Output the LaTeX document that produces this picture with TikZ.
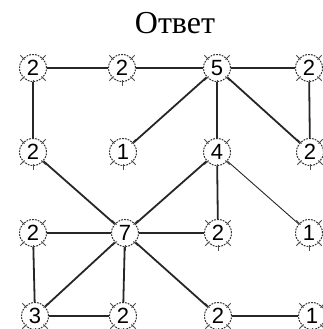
\documentclass[tikz,border=0pt]{standalone}
\usepackage{fontspec}
\setmainfont{Liberation Serif}
\newfontfamily\digitfont{Liberation Sans}
\begin{document}
\begin{tikzpicture}[x=1pt,y=-1pt,
  v/.style={circle, draw=black!80, dash pattern=on 1.8pt off 1.1pt, minimum size=27pt, inner sep=0pt,
    line width=1pt, font=\digitfont\fontsize{22}{22}\selectfont},
  e/.style={line width=1.8pt, draw=black!85},
  ethin/.style={line width=0.9pt, draw=black!85},
  tk/.style={line width=0.8pt, draw=black!70}]
\useasboundingbox (0,0) rectangle (322,329);
\node[font=\fontsize{32}{32}\selectfont, anchor=base] (title) at (175,34) {Ответ};
% row 1
\node[v] (a1) at (33,68) {2};
\node[v] (a2) at (122,68) {2};
\node[v] (a3) at (217,68) {5};
\node[v] (a4) at (309,68) {2};
% row 2
\node[v] (b1) at (33,152) {2};
\node[v] (b2) at (123,152) {1};
\node[v] (b3) at (217,152) {4};
\node[v] (b4) at (310,152) {2};
% row 3
\node[v] (c1) at (33,233) {2};
\node[v] (c2) at (125,233) {7};
\node[v] (c3) at (218,233) {2};
\node[v] (c4) at (309,233) {1};
% row 4
\node[v] (d1) at (35,316) {3};
\node[v] (d2) at (123,316) {2};
\node[v] (d3) at (218,316) {2};
\node[v] (d4) at (312,316) {1};
% ticks
\foreach \n in {a1,a2,a3,a4,b1,b2,b3,b4,c1,c2,c3,c4,d1,d2,d3,d4}{
  \foreach \a in {45,135,225,315,90}{
    \draw[tk] ([shift={(\a:12)}]\n.center) -- ([shift={(\a:18)}]\n.center);
  }
}
% edges
\draw[e] (a1) -- (a2);
\draw[e] (a2) -- (a3);
\draw[e] (a3) -- (a4);
\draw[e] (a1) -- (b1);
\draw[e] (a4) -- (b4);
\draw[e] (a3) -- (b2);
\draw[e] (a3) -- (b3);
\draw[e] (a3) -- (b4);
\draw[e] (b1) -- (c2);
\draw[e] (b3) -- (c2);
\draw[e] (b3) -- (c3);
\draw[ethin] (b3) -- (c4);
\draw[e] (c1) -- (c2);
\draw[e] (c2) -- (c3);
\draw[e] (c1) -- (d1);
\draw[e] (c2) -- (d1);
\draw[e] (c2) -- (d2);
\draw[e] (c2) -- (d3);
\draw[e] (d1) -- (d2);
\draw[e] (d3) -- (d4);
\end{tikzpicture}
\end{document}
